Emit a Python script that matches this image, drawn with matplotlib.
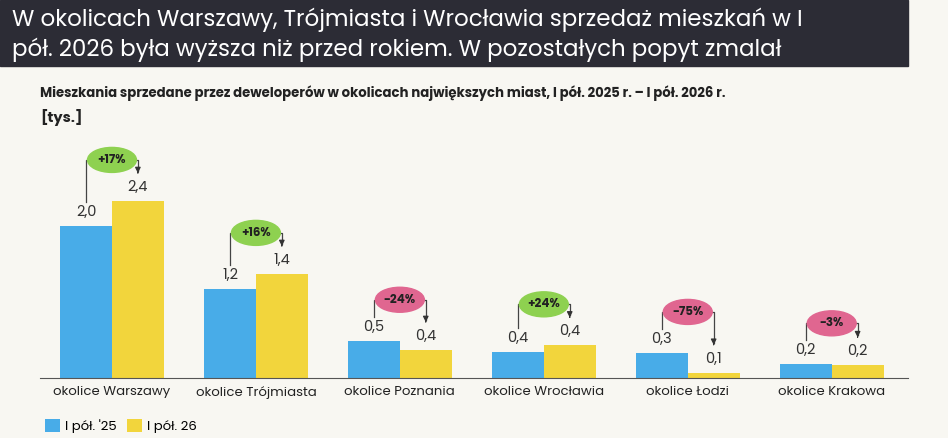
import matplotlib.pyplot as plt
from matplotlib.patches import Ellipse

plt.rcParams['font.family'] = ['Poppins', 'Lato', 'DejaVu Sans']

cities = ['okolice Warszawy', 'okolice Trójmiasta', 'okolice Poznania',
          'okolice Wrocławia', 'okolice Łodzi', 'okolice Krakowa']
h1_2025 = [2.0, 1.17, 0.49, 0.34, 0.33, 0.18]
h1_2026 = [2.33, 1.37, 0.37, 0.43, 0.07, 0.17]
labels_2025 = ['2,0', '1,2', '0,5', '0,4', '0,3', '0,2']
labels_2026 = ['2,4', '1,4', '0,4', '0,4', '0,1', '0,2']
changes = ['+17%', '+16%', '-24%', '+24%', '-75%', '-3%']

bg = '#f8f7f2'
blue = '#48ace8'
yellow = '#f2d53c'
green = '#8ed150'
pink = '#e06690'

fig = plt.figure(figsize=(9.48, 4.38), dpi=100, facecolor=bg)

# title banner
fig.patches.append(plt.Rectangle((0, 1 - 66 / 438), 908 / 948, 66 / 438,
                                 transform=fig.transFigure, color='#2c2c35', zorder=0))
fig.text(12 / 948, 1 - 20 / 438, 'W okolicach Warszawy, Trójmiasta i Wrocławia sprzedaż mieszkań w I',
         color='white', fontsize=16.5, va='center')
fig.text(12 / 948, 1 - 50 / 438, 'pół. 2026 była wyższa niż przed rokiem. W pozostałych popyt zmalał',
         color='white', fontsize=16.5, va='center')
fig.text(40 / 948, 1 - 93 / 438,
         'Mieszkania sprzedane przez deweloperów w okolicach największych miast, I pół. 2025 r. – I pół. 2026 r.',
         fontsize=9.5, fontweight='bold', color='#222222', va='center')
fig.text(40 / 948, 1 - 118 / 438, '[tys.]', fontsize=10.5, fontweight='bold', color='#222222', va='center')

ax = fig.add_axes([40 / 948, 1 - 378 / 438, 868 / 948, 258 / 438])
ax.set_facecolor('none')
ppu = 76.0  # pixels per unit
ax.set_ylim(0, 258 / ppu)
ax.set_xlim(-0.5, 5.53)
w = 0.36
xs = range(len(cities))
ax.bar([x - w / 2 for x in xs], h1_2025, w, color=blue, label="I pół. '25")
ax.bar([x + w / 2 for x in xs], h1_2026, w, color=yellow, label='I pół. 26')

px = 1 / ppu
for x, a, b, la, lb, c in zip(xs, h1_2025, h1_2026, labels_2025, labels_2026, changes):
    ax.text(x - w / 2, a + 6 * px, la, ha='center', va='bottom', fontsize=10.5, color='#333333')
    ax.text(x + w / 2, b + 6 * px, lb, ha='center', va='bottom', fontsize=10.5, color='#333333')
    top = max(a, b) + 41 * px
    ax.plot([x - w / 2, x - w / 2, x + w / 2, x + w / 2],
            [a + 24 * px, top, top, b + 30 * px], color='#444444', lw=0.9)
    ax.annotate('', xy=(x + w / 2, b + 25 * px), xytext=(x + w / 2, b + 31 * px),
                arrowprops=dict(arrowstyle='-|>', color='#333333', lw=0.9, mutation_scale=8))
    col = green if c.startswith('+') else pink
    ax.add_patch(Ellipse((x, top), 0.34, 25 * px, color=col, zorder=3))
    ax.text(x, top, c, ha='center', va='center', fontsize=8.5, fontweight='bold',
            color='#222222', zorder=4)

for s in ['top', 'right', 'left']:
    ax.spines[s].set_visible(False)
ax.spines['bottom'].set_color('#555555')
ax.set_yticks([])
ax.set_xticks(list(xs))
ax.set_xticklabels(cities, fontsize=9.5, color='#222222')
ax.tick_params(axis='x', length=0, pad=6)

ax.legend(loc='upper left', bbox_to_anchor=(0.0, -0.14), ncol=2, frameon=False,
          fontsize=9.5, handlelength=1.1, handleheight=1.1, columnspacing=0.8, handletextpad=0.4,
          borderaxespad=0)

fig.savefig('out.png', dpi=100, facecolor=bg)
